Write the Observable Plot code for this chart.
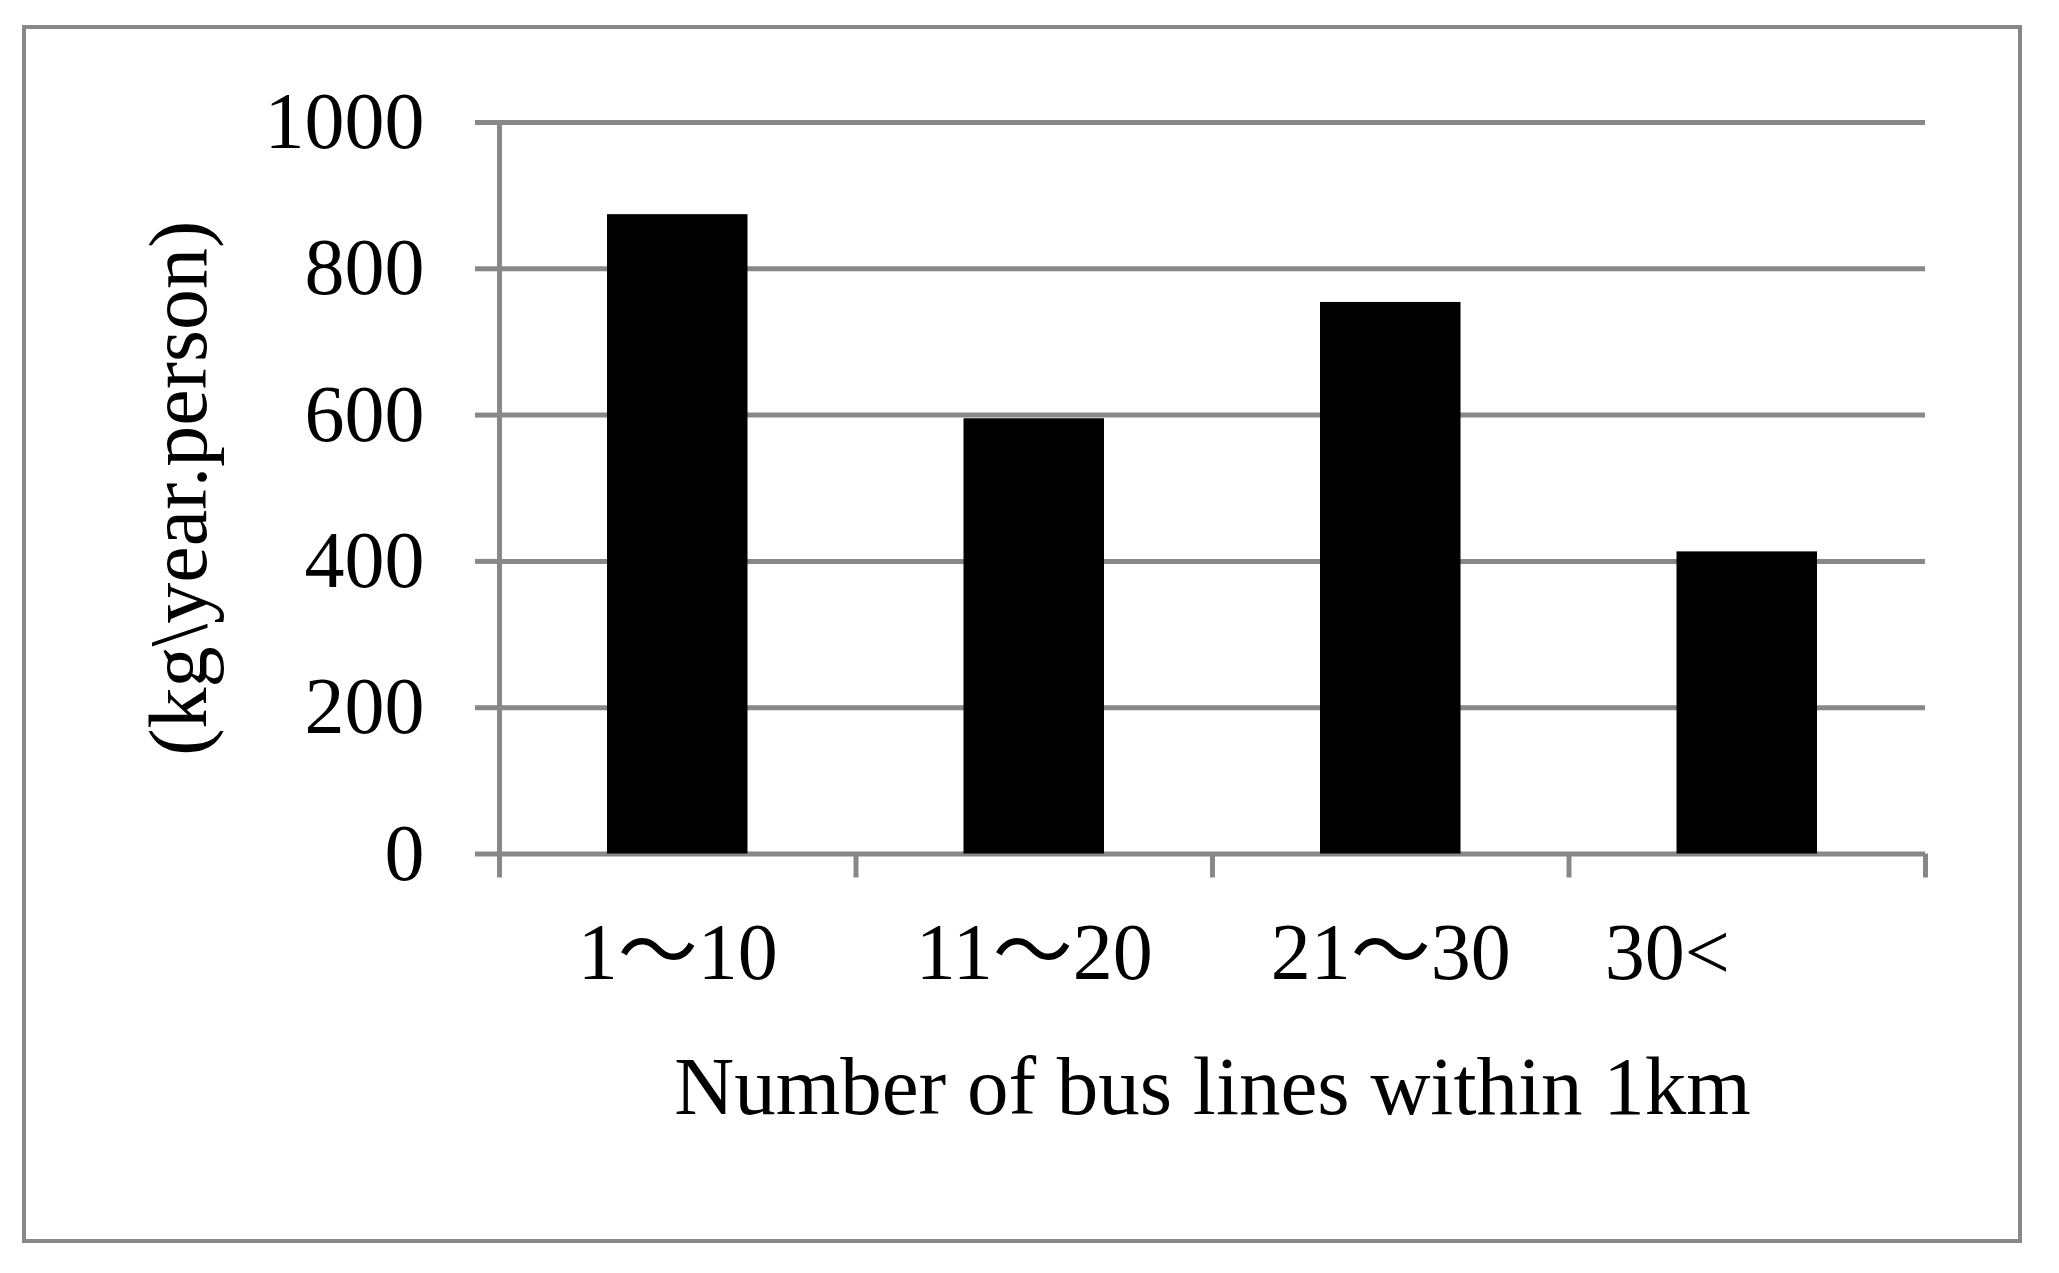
<!DOCTYPE html>
<html><head><meta charset="utf-8">
<script src="https://cdn.jsdelivr.net/npm/d3@7"></script>
<script src="https://cdn.jsdelivr.net/npm/@observablehq/plot@0.6"></script>
<style>
html,body{margin:0;padding:0;background:#fff;}
#wrap{position:relative;width:2059px;height:1273px;background:#fff;}
#wrap svg{position:absolute;left:0;top:0;}
#border{position:absolute;left:22px;top:25px;width:2000px;height:1218px;border:4px solid #888;box-sizing:border-box;pointer-events:none;}
</style></head><body>
<div id="wrap"><div id="border"></div></div>
<script>
// ---- data ----
const categories = ["1～10", "11～20", "21～30", "30<\u3000\u3000"];
const values = [874, 595, 754, 413];
const yTicks = [0, 200, 400, 600, 800, 1000];
const yLabel = "(kg\\year.person)";
const xLabel = "Number of bus lines within 1km";

// ---- derived tables ----
const data = categories.map((c, i) => ({category: c, index: i, value: values[i]}));
const boundaries = d3.range(categories.length + 1);
const centers = data.map(d => d.index + 0.5);

const gray = "#888";
const font = "'Liberation Serif','Times New Roman','Noto Sans CJK JP',serif";

const chart = Plot.plot({
  width: 2059, height: 1273,
  marginLeft: 499, marginRight: 134, marginTop: 122, marginBottom: 419.5,
  style: {fontFamily: font, fontSize: "80px", color: "black", background: "transparent", overflow: "visible"},
  x: {type: "linear", domain: [0, categories.length], axis: null, label: null},
  y: {domain: [0, 1000], axis: null, label: null},
  marks: [
    Plot.gridY(yTicks, {stroke: gray, strokeOpacity: 1, strokeWidth: 5}),
    Plot.axisY(yTicks, {tickSize: 24, tickPadding: 51, stroke: gray, strokeWidth: 5, fill: "black", fontSize: 80, tickFormat: d => String(d), label: null}),
    Plot.ruleX([0], {y1: 0, y2: 1000, stroke: gray, strokeWidth: 5}),
    Plot.axisX(boundaries, {tickSize: 24, stroke: gray, strokeWidth: 5, tickFormat: () => "", label: null}),
    Plot.rectY(data, {x1: "index", x2: d => d.index + 1, y: "value", fill: "black", insetLeft: 108, insetRight: 108}),
    Plot.axisX(centers, {tickSize: 0, tickPadding: 68, tickFormat: t => data[Math.floor(t)].category, fill: "black", fontSize: 80, label: null}),
    Plot.text([xLabel], {frameAnchor: "bottom", dy: 259.5, lineAnchor: "bottom", textAnchor: "middle", fontSize: 83, fill: "black"}),
    Plot.text([yLabel], {frameAnchor: "left", dx: -320, rotate: -90, textAnchor: "middle", lineAnchor: "middle", fontSize: 82, fill: "black"})
  ]
});
document.getElementById("wrap").prepend(chart);
</script>
</body></html>
